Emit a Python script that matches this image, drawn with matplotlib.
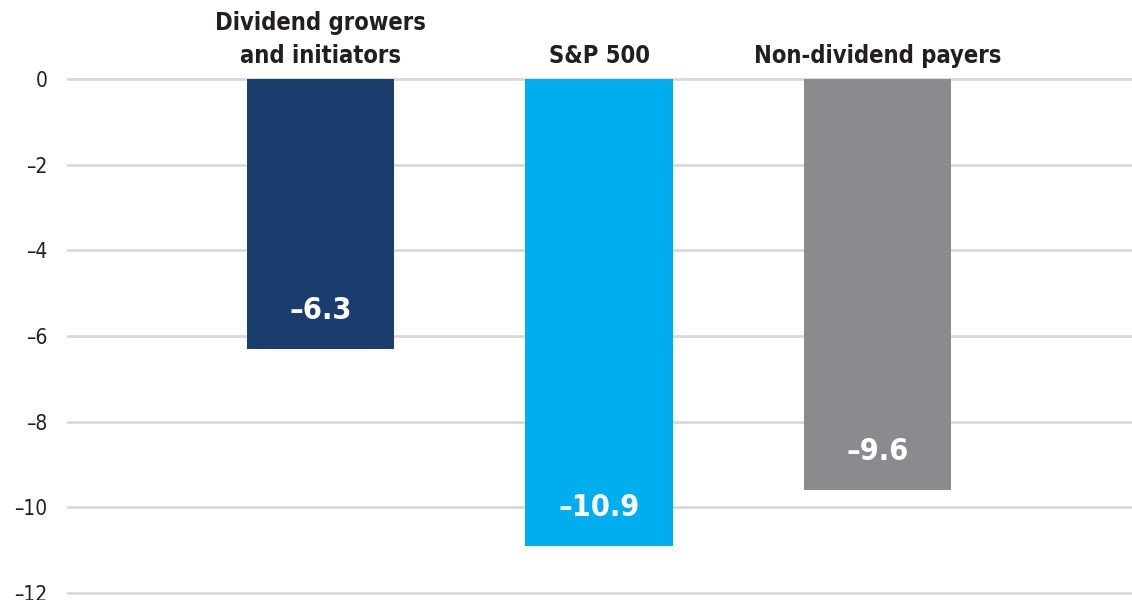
import matplotlib
matplotlib.use("Agg")
import matplotlib.pyplot as plt

plt.rcParams['font.family'] = ['DejaVu Sans']
plt.rcParams['font.stretch'] = 'condensed'
plt.rcParams['axes.unicode_minus'] = False

categories = ["Dividend growers\nand initiators", "S&P 500", "Non-dividend payers"]
values = [-6.3, -10.9, -9.6]
colors = ["#1b3d6d", "#00aeef", "#898b8f"]
yticks = [0, -2, -4, -6, -8, -10, -12]
ytick_labels = ["0", "\u20132", "\u20134", "\u20136", "\u20138", "\u201310", "\u201312"]

fig = plt.figure(figsize=(11.32, 6), dpi=100)
ax = fig.add_axes([0.0592, 0.0082, 0.9408, 0.8637])

x = range(len(values))
ax.bar(x, values, width=0.529, color=colors, zorder=3)

for xi, v in zip(x, values):
    ax.text(xi, v + 0.9, f"\u2013{abs(v):.1f}", ha='center', va='center',
            color='white', fontsize=22, fontweight='bold', zorder=4)

for xi, c in zip(x, categories):
    ax.text(xi, 0.26, c, ha='center', va='bottom', color='#231f20',
            fontsize=17, fontweight='bold', linespacing=1.45, clip_on=False)

ax.set_xlim(-0.912, 2.915)
ax.set_ylim(-12.05, 0.05)
ax.set_yticks(yticks)
ax.set_yticklabels(ytick_labels)
ax.set_xticks([])
ax.tick_params(axis='y', length=0, pad=14, labelsize=15, labelcolor='#231f20')
ax.grid(axis='y', color='#d9d9d9', linewidth=2, zorder=0)
for s in ax.spines.values():
    s.set_visible(False)

fig.savefig("out.png", dpi=100)
